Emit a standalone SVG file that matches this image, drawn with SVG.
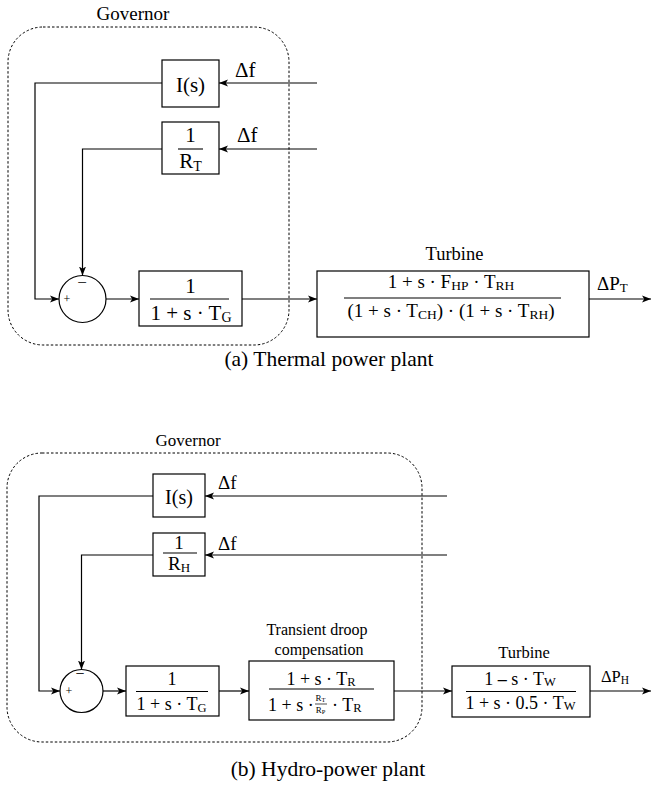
<svg xmlns="http://www.w3.org/2000/svg" width="652" height="787" viewBox="0 0 652 787" font-family="'Liberation Serif', 'DejaVu Serif', serif">
<style>
text, tspan{font-family:'Liberation Serif','DejaVu Serif',serif;fill:#000}
.box{fill:#fff;stroke:#000;stroke-width:1.2}
.grp{fill:none;stroke:#000;stroke-width:1;stroke-dasharray:2.5,2}
.fl{stroke:#000;stroke-width:1.1}
.c path{fill:none;stroke:#000;stroke-width:1.2}
.m{text-anchor:middle}
</style>
<defs>
<marker id="ah" markerUnits="userSpaceOnUse" markerWidth="10" markerHeight="8" refX="9" refY="4" orient="auto">
<path d="M0,0.5 L9,4 L0,7.5 L2.2,4 z" fill="#000"/>
</marker>
</defs>

<!-- ===== (a) Thermal ===== -->
<g id="governorA">
<rect class="grp" x="8" y="27" width="281" height="318" rx="35"/>
<text class="m" font-size="19" x="133" y="20">Governor</text>
</g>
<g id="IsA">
<rect class="box" x="162" y="60" width="57" height="47"/>
<text class="m" font-size="21" x="190.5" y="92">I(s)</text>
</g>
<g id="RTA">
<rect class="box" x="162" y="122" width="57" height="52"/>
<text class="m" font-size="21" x="190.5" y="142">1</text>
<line class="fl" x1="178" y1="149" x2="203" y2="149"/>
<text class="m" font-size="21" x="190.5" y="168">R<tspan font-size="14" dy="3">T</tspan></text>
</g>
<g id="sumA">
<circle cx="82.5" cy="299" r="23.5" fill="#fff" stroke="#000" stroke-width="1.2"/>
<text x="67" y="303" font-size="12" class="m">+</text>
<text x="82" y="288" font-size="17" class="m">−</text>
</g>
<g id="GA">
<rect class="box" x="139" y="271" width="103" height="55"/>
<text class="m" font-size="21" x="190.5" y="293">1</text>
<line class="fl" x1="150" y1="299" x2="229" y2="299"/>
<text class="m" font-size="21" x="191" y="320">1 + s · T<tspan font-size="14" dy="2">G</tspan></text>
</g>
<g id="turbA">
<text class="m" font-size="18.5" x="454.5" y="260">Turbine</text>
<rect class="box" x="317" y="271" width="272" height="66"/>
<text class="m" font-size="19" x="451" y="288">1 + s · F<tspan font-size="13.5" dy="1.5">HP</tspan><tspan dy="-1.5"> · T</tspan><tspan font-size="13.5" dy="1.5">RH</tspan></text>
<line class="fl" x1="344" y1="298" x2="561" y2="298"/>
<text class="m" font-size="19" x="451" y="317">(1 + s · T<tspan font-size="13.5" dy="1.5">CH</tspan><tspan dy="-1.5">) · (1 + s · T</tspan><tspan font-size="13.5" dy="1.5">RH</tspan><tspan dy="-1.5">)</tspan></text>
</g>
<g id="labelsA">
<text font-size="21" x="235" y="77">Δf</text>
<text font-size="21" x="237" y="142">Δf</text>
<text font-size="19" x="597" y="290">ΔP<tspan font-size="13" dy="2">T</tspan></text>
<text class="m" font-size="21.5" x="329" y="366">(a) Thermal power plant</text>
</g>

<!-- ===== (b) Hydro ===== -->
<g id="governorB">
<rect class="grp" x="7" y="453" width="415" height="289" rx="35"/>
<text class="m" font-size="17" x="188" y="446">Governor</text>
</g>
<g id="IsB">
<rect class="box" x="153" y="474" width="52" height="43"/>
<text class="m" font-size="20" x="179" y="504">I(s)</text>
</g>
<g id="RHB">
<rect class="box" x="153" y="533" width="52" height="43"/>
<text class="m" font-size="19" x="179" y="549">1</text>
<line class="fl" x1="163" y1="553" x2="197" y2="553"/>
<text class="m" font-size="19" x="179" y="570">R<tspan font-size="13" dy="2">H</tspan></text>
</g>
<g id="sumB">
<circle cx="81.5" cy="691" r="21.5" fill="#fff" stroke="#000" stroke-width="1.2"/>
<text x="69" y="695" font-size="12" class="m">+</text>
<text x="80" y="679" font-size="16" class="m">−</text>
</g>
<g id="GB">
<rect class="box" x="126" y="666" width="93" height="50"/>
<text class="m" font-size="18" x="172" y="685">1</text>
<line class="fl" x1="136" y1="691.5" x2="208" y2="691.5"/>
<text class="m" font-size="18" x="171.5" y="710">1 + s · T<tspan font-size="12.5" dy="1.5">G</tspan></text>
</g>
<g id="droopB">
<text class="m" font-size="16" x="317" y="635">Transient droop</text>
<text class="m" font-size="16" x="319" y="655">compensation</text>
<rect class="box" x="249" y="661" width="145" height="59"/>
<text class="m" font-size="18" x="321" y="685">1 + s · T<tspan font-size="12.5" dy="1">R</tspan></text>
<line class="fl" x1="269" y1="689" x2="374" y2="689"/>
<text font-size="18" x="268" y="711">1 + s ·</text>
<text font-size="9" class="m" x="320.5" y="701">R<tspan font-size="6.5" dy="0.5">T</tspan></text>
<line stroke="#000" stroke-width="0.7" x1="315" y1="704" x2="327" y2="704"/>
<text font-size="9" class="m" x="320.5" y="713">R<tspan font-size="6.5" dy="0.5">P</tspan></text>
<text font-size="18" x="332" y="711">· T<tspan font-size="12.5" dy="1">R</tspan></text>
</g>
<g id="turbB">
<text class="m" font-size="16.5" x="524" y="658">Turbine</text>
<rect class="box" x="452" y="666" width="138" height="51"/>
<text class="m" font-size="18" x="520" y="685">1 <tspan font-weight="bold">–</tspan> s · T<tspan font-size="12.5" dy="1">W</tspan></text>
<line class="fl" x1="466" y1="691.5" x2="576" y2="691.5"/>
<text class="m" font-size="18" x="520.5" y="708.5">1 + s · 0.5 · T<tspan font-size="12.5" dy="1">W</tspan></text>
</g>
<g id="labelsB">
<text font-size="19" x="218" y="489">Δf</text>
<text font-size="19" x="218" y="549.5">Δf</text>
<text font-size="16.5" x="601" y="682">ΔP<tspan font-size="11.5" dy="1.5">H</tspan></text>
<text class="m" font-size="21.5" x="328" y="776">(b) Hydro-power plant</text>
</g>

<g id="connectors" class="c">
<path d="M317,83 H219" marker-end="url(#ah)"/>
<path d="M317,149 H219" marker-end="url(#ah)"/>
<path d="M162,83 H35 V299 H59" marker-end="url(#ah)"/>
<path d="M162,149 H82.5 V275.5" marker-end="url(#ah)"/>
<path d="M106,299 H139" marker-end="url(#ah)"/>
<path d="M242,299 H317" marker-end="url(#ah)"/>
<path d="M589,299 H651" marker-end="url(#ah)"/>
<path d="M447,496 H205" marker-end="url(#ah)"/>
<path d="M447,555 H205" marker-end="url(#ah)"/>
<path d="M153,496 H39 V691 H60" marker-end="url(#ah)"/>
<path d="M153,555 H81.5 V669.5" marker-end="url(#ah)"/>
<path d="M103,691 H126" marker-end="url(#ah)"/>
<path d="M219,691 H249" marker-end="url(#ah)"/>
<path d="M394,691 H452" marker-end="url(#ah)"/>
<path d="M590,691 H651" marker-end="url(#ah)"/>
</g>
</svg>
